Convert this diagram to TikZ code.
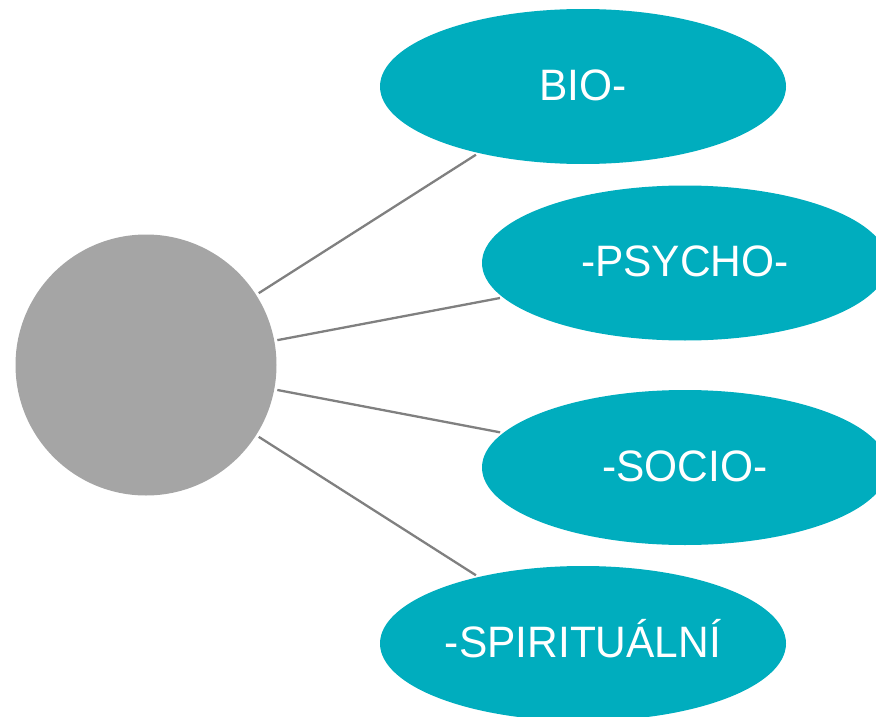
\documentclass[tikz,border=0pt]{standalone}
\usepackage{xcolor}
\usepackage{graphicx}
\usepackage{fontspec}
\setmainfont{Liberation Sans}
\usepackage{tikz}
\usetikzlibrary{shapes.geometric}
\definecolor{tyrkys}{HTML}{00ADBE}
\definecolor{seda}{HTML}{A5A5A5}
\definecolor{cara}{HTML}{808080}
\newcommand{\napis}[1]{\scalebox{0.965}[1]{#1}}

\begin{document}
\begin{tikzpicture}[x=1pt,y=-1pt,
  part/.style={ellipse,fill=tyrkys,text=white,minimum width=406pt,minimum height=155pt,inner sep=0pt,
    font=\fontsize{44}{50}\selectfont,text height=31pt,text depth=4pt},
  link/.style={draw=cara,line width=2.3pt,shorten <=3pt,shorten >=3pt}]
\useasboundingbox (0,0) rectangle (876,717);
\clip (0,0) rectangle (876,717);
\node [circle,fill=seda,minimum size=261pt,inner sep=0pt] (z) at (146,365) {};
\node [part] (b) at (583,86.5) {\napis{BIO-}};
\node [part] (p) at (685,263) {\napis{-PSYCHO-}};
\node [part] (s) at (685,467.5) {\napis{-SOCIO-}};
\node [part] (r) at (583,643.5) {\napis{-SPIRITUÁLNÍ}};
\draw [link] (z) -- (b);
\draw [link] (z) -- (p);
\draw [link] (z) -- (s);
\draw [link] (z) -- (r);
\end{tikzpicture}
\end{document}
